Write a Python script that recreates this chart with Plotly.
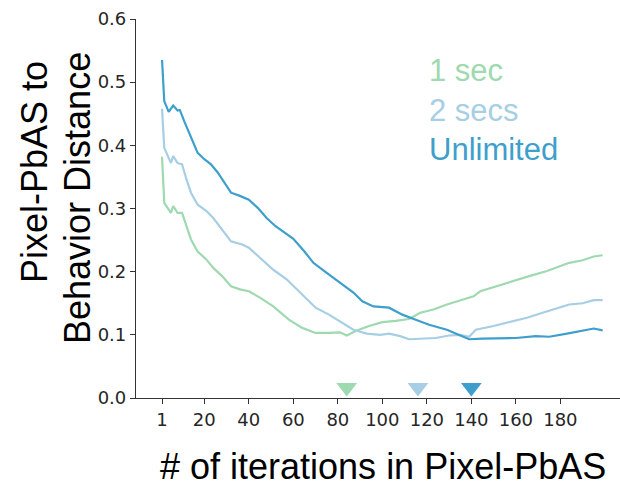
import plotly.graph_objects as go

# Pixel-PbAS to behavior distance per iteration, for three time budgets
iter_1s = [1, 2, 5, 6, 8, 10, 12, 14, 17, 21, 24, 28, 32, 36, 40, 45, 51, 58, 64, 70, 76, 81, 84, 88, 94, 100, 106, 112, 117, 123, 129, 136, 141, 144, 151, 159, 166, 174, 180, 184, 190, 195, 199]
dist_1s = [0.382, 0.309, 0.293, 0.304, 0.293, 0.293, 0.272, 0.251, 0.232, 0.219, 0.206, 0.193, 0.177, 0.172, 0.169, 0.159, 0.145, 0.124, 0.111, 0.103, 0.103, 0.104, 0.099, 0.106, 0.114, 0.120, 0.122, 0.125, 0.135, 0.140, 0.148, 0.156, 0.161, 0.169, 0.177, 0.185, 0.193, 0.201, 0.209, 0.214, 0.218, 0.224, 0.226]

iter_2s = [1, 2, 5, 6, 8, 10, 12, 14, 17, 21, 24, 28, 32, 37, 40, 45, 51, 57, 64, 70, 76, 82, 87, 93, 99, 103, 108, 112, 118, 124, 130, 135, 139, 142, 150, 157, 165, 172, 180, 184, 190, 195, 199]
dist_2s = [0.458, 0.396, 0.372, 0.383, 0.372, 0.370, 0.346, 0.325, 0.306, 0.296, 0.285, 0.267, 0.248, 0.243, 0.238, 0.222, 0.203, 0.188, 0.164, 0.143, 0.132, 0.119, 0.108, 0.102, 0.100, 0.102, 0.098, 0.093, 0.094, 0.095, 0.099, 0.100, 0.097, 0.108, 0.114, 0.120, 0.127, 0.135, 0.143, 0.148, 0.150, 0.155, 0.155]

iter_unl = [1, 2, 4, 6, 8, 9, 11, 14, 17, 20, 23, 26, 29, 32, 36, 40, 44, 48, 52, 57, 60, 65, 69, 75, 81, 87, 91, 96, 103, 109, 115, 121, 129, 135, 139, 145, 153, 160, 169, 175, 183, 190, 195, 199]
dist_unl = [0.535, 0.470, 0.453, 0.463, 0.455, 0.456, 0.438, 0.412, 0.388, 0.378, 0.370, 0.357, 0.341, 0.325, 0.320, 0.314, 0.301, 0.285, 0.272, 0.259, 0.252, 0.232, 0.214, 0.198, 0.182, 0.167, 0.153, 0.145, 0.143, 0.132, 0.124, 0.116, 0.108, 0.099, 0.093, 0.094, 0.094, 0.095, 0.098, 0.097, 0.102, 0.106, 0.110, 0.107]

# best iteration for each budget, marked on the x axis
best_iter = [84, 116, 140]
marker_level = [0.0165, 0.0165, 0.0165]

series_names = ["1 sec", "2 secs", "Unlimited"]
colors = ["#9fd9b0", "#a6cee4", "#3e9fcc"]

x_ticks = [1, 20, 40, 60, 80, 100, 120, 140, 160, 180]
y_ticks = [0.0, 0.1, 0.2, 0.3, 0.4, 0.5, 0.6]
y_tick_text = ["0.0", "0.1", "0.2", "0.3", "0.4", "0.5", "0.6"]

fig = go.Figure()
for xs, ys, name, c in zip([iter_1s, iter_2s, iter_unl], [dist_1s, dist_2s, dist_unl], series_names, colors):
    fig.add_trace(go.Scatter(x=xs, y=ys, mode="lines", name=name,
                             line=dict(color=c, width=2.2), showlegend=False))

fig.add_trace(go.Scatter(x=best_iter, y=marker_level, mode="markers", showlegend=False,
                         marker=dict(symbol="triangle-down", size=18, color=colors,
                                     line=dict(width=0)), cliponaxis=False))

# colored series labels in the upper right
label_y = [0.518, 0.455, 0.393]
for name, c, ly in zip(series_names, colors, label_y):
    fig.add_annotation(x=120.1, y=ly, xref="x", yref="y", text=name, showarrow=False,
                       xanchor="left", yanchor="middle",
                       font=dict(family="Liberation Sans, Arial", size=31, color=c))

title_font = dict(family="Liberation Sans, Arial", size=36, color="#000000")

fig.update_layout(
    width=620, height=481,
    margin=dict(l=136, r=0, t=19, b=83),
    plot_bgcolor="white", paper_bgcolor="white",
    font=dict(family="DejaVu Sans", size=18, color="#262626"),
)
fig.update_xaxes(range=[-10.7, 206.8], tickmode="array", tickvals=x_ticks,
                 ticktext=[str(v) for v in x_ticks], ticks="outside", ticklen=5, tickwidth=1.2,
                 tickcolor="#333333", showline=True, linecolor="#333333", linewidth=1.2,
                 showgrid=False, zeroline=False, tickfont_size=18, tickfont_family="DejaVu Sans")
fig.update_yaxes(range=[0, 0.6], tickmode="array", tickvals=y_ticks, ticktext=y_tick_text,
                 ticks="outside", ticklen=5, tickwidth=1.2, tickcolor="#333333", showline=True,
                 linecolor="#333333", linewidth=1.2, showgrid=False, zeroline=False,
                 tickfont_size=18, tickfont_family="DejaVu Sans")

# axis titles, placed in paper coordinates
fig.add_annotation(x=(383 - 136) / 484, y=(481 - 466 - 83) / 379, xref="paper", yref="paper",
                   text="# of iterations in Pixel-PbAS", showarrow=False,
                   xanchor="center", yanchor="middle", font=title_font)
fig.add_annotation(x=(34 - 136) / 484, y=(398 - 172) / 379, xref="paper", yref="paper",
                   text="Pixel-PbAS to", textangle=-90, showarrow=False,
                   xanchor="center", yanchor="middle", font=title_font)
fig.add_annotation(x=(77 - 136) / 484, y=(398 - 198) / 379, xref="paper", yref="paper",
                   text="Behavior Distance", textangle=-90, showarrow=False,
                   xanchor="center", yanchor="middle", font=title_font)

fig.write_html("out.html")
